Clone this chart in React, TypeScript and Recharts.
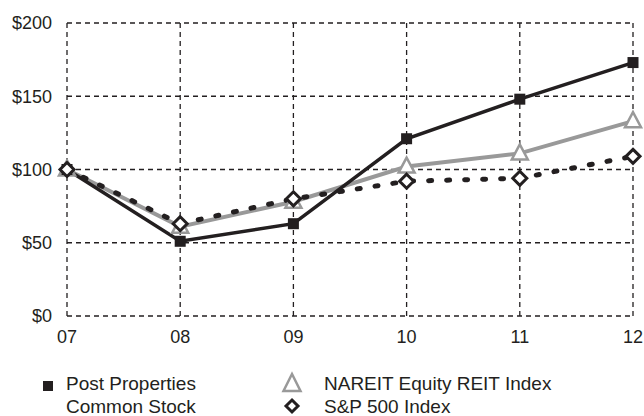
import React from 'react';
import { LineChart, Line, XAxis, YAxis, CartesianGrid } from 'recharts';

const years = ['07', '08', '09', '10', '11', '12'];
const postProperties = [100, 51, 63, 121, 148, 173];
const nareitIndex = [100, 61, 78, 102, 111, 133];
const sp500Index = [100, 63, 80, 92, 94, 109];
const yTicks = [0, 50, 100, 150, 200];

const chartData = years.map((year, i) => ({
  year,
  post: postProperties[i],
  nareit: nareitIndex[i],
  sp500: sp500Index[i],
}));

const FONT = '"Liberation Sans", Arial, Helvetica, sans-serif';
const TEXT = '#231f20';
const GRAY = '#999999';

// Marker shapes for each series
const SquareDot = (props: any) => {
  const { cx, cy, index } = props;
  if (cx == null || cy == null) return <g key={`sq-${index}`} />;
  return <rect key={`sq-${index}`} x={cx - 5.5} y={cy - 5.5} width={11} height={11} fill={TEXT} />;
};

const TriangleDot = (props: any) => {
  const { cx, cy, index } = props;
  if (cx == null || cy == null) return <g key={`tr-${index}`} />;
  const points = `${cx},${cy - 9} ${cx - 8},${cy + 6} ${cx + 8},${cy + 6}`;
  return <polygon key={`tr-${index}`} points={points} fill="#ffffff" stroke={GRAY} strokeWidth={2.5} />;
};

const DiamondDot = (props: any) => {
  const { cx, cy, index } = props;
  if (cx == null || cy == null) return <g key={`dm-${index}`} />;
  const points = `${cx},${cy - 7} ${cx + 7},${cy} ${cx},${cy + 7} ${cx - 7},${cy}`;
  return <polygon key={`dm-${index}`} points={points} fill="#ffffff" stroke={TEXT} strokeWidth={3} />;
};

const legendText: React.CSSProperties = {
  position: 'absolute',
  fontFamily: FONT,
  fontSize: 19,
  lineHeight: '18px',
  color: TEXT,
  whiteSpace: 'nowrap',
};

const App: React.FC = () => {
  return (
    <div style={{ position: 'relative', width: 644, height: 416, background: '#fff', overflow: 'hidden' }}>
      <style>{`body{margin:0}`}</style>
      <LineChart
        width={644}
        height={416}
        data={chartData}
        margin={{ top: 23, right: 11, bottom: 70, left: 0 }}
      >
        <CartesianGrid stroke={TEXT} strokeWidth={1.3} strokeDasharray="5 4" />
        <XAxis
          dataKey="year"
          height={30}
          axisLine={false}
          tickLine={false}
          tickSize={0}
          tickMargin={14}
          interval={0}
          tick={{ fontSize: 18, fontFamily: FONT, fill: TEXT }}
        />
        <YAxis
          width={67}
          domain={[0, 200]}
          ticks={yTicks}
          axisLine={false}
          tickLine={false}
          tickSize={0}
          tickMargin={15}
          tickFormatter={(v) => `$${v}`}
          tick={{ fontSize: 18, fontFamily: FONT, fill: TEXT }}
        />
        <Line
          dataKey="nareit"
          stroke={GRAY}
          strokeWidth={4}
          dot={TriangleDot}
          activeDot={false}
          isAnimationActive={false}
        />
        <Line
          dataKey="post"
          stroke={TEXT}
          strokeWidth={3.5}
          dot={SquareDot}
          activeDot={false}
          isAnimationActive={false}
        />
        <Line
          dataKey="sp500"
          stroke={TEXT}
          strokeWidth={5}
          strokeDasharray="3 15"
          strokeLinecap="round"
          dot={DiamondDot}
          activeDot={false}
          isAnimationActive={false}
        />
      </LineChart>

      {/* Legend */}
      <svg style={{ position: 'absolute', left: 0, top: 0 }} width={644} height={416} pointerEvents="none">
        <rect x={43} y={381} width={10} height={10} fill={TEXT} />
        <polygon points="292,374 283.5,391 300.5,391" fill="#fff" stroke={GRAY} strokeWidth={2.5} />
        <polygon points="292,400 298,406 292,412 286,406" fill="#fff" stroke={TEXT} strokeWidth={3} />
      </svg>
      <div style={{ ...legendText, left: 66, top: 375 }}>Post Properties</div>
      <div style={{ ...legendText, left: 66, top: 397.5 }}>Common Stock</div>
      <div style={{ ...legendText, left: 324, top: 375 }}>NAREIT Equity REIT Index</div>
      <div style={{ ...legendText, left: 324, top: 397.5 }}>S&amp;P 500 Index</div>
    </div>
  );
};

export default App;
